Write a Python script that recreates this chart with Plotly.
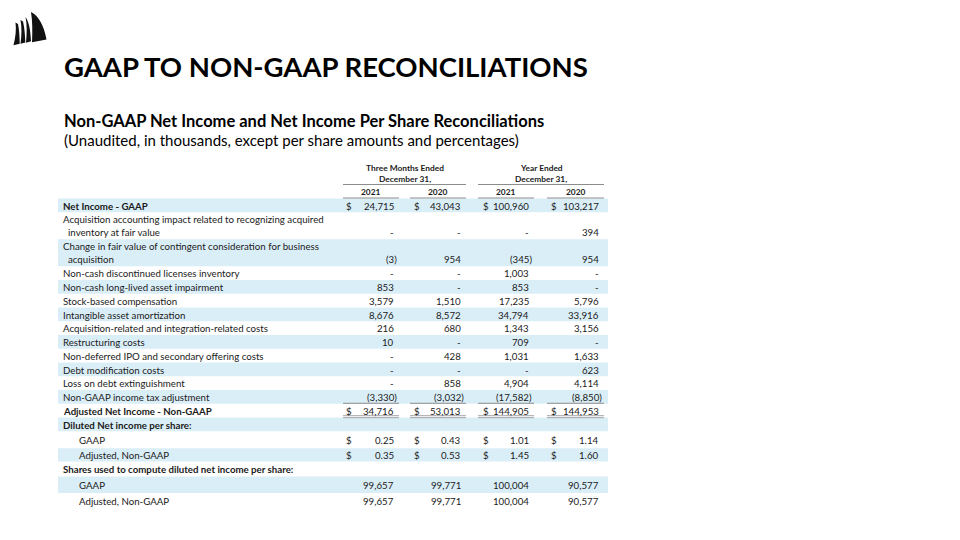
import plotly.graph_objects as go

# ---------------- data ----------------
title = "GAAP TO NON-GAAP RECONCILIATIONS"
subtitle = "Non-GAAP Net Income and Net Income Per Share Reconciliations"
note = "(Unaudited, in thousands, except per share amounts and percentages)"
period_groups = ["Three Months Ended", "Year Ended"]
period_sub = "December 31,"
years = ["2021", "2020", "2021", "2020"]

line_items = [
    "Net Income - GAAP",
    "Acquisition accounting impact related to recognizing acquired|inventory at fair value",
    "Change in fair value of contingent consideration for business|acquisition",
    "Non-cash discontinued licenses inventory",
    "Non-cash long-lived asset impairment",
    "Stock-based compensation",
    "Intangible asset amortization",
    "Acquisition-related and integration-related costs",
    "Restructuring costs",
    "Non-deferred IPO and secondary offering costs",
    "Debt modification costs",
    "Loss on debt extinguishment",
    "Non-GAAP income tax adjustment",
    "Adjusted Net Income - Non-GAAP",
]
q4_2021 = [24715, None, -3, None, 853, 3579, 8676, 216, 10, None, None, None, -3330, 34716]
q4_2020 = [43043, None, 954, None, None, 1510, 8572, 680, None, 428, None, 858, -3032, 53013]
fy_2021 = [100960, None, -345, 1003, 853, 17235, 34794, 1343, 709, 1031, None, 4904, -17582, 144905]
fy_2020 = [103217, 394, 954, None, None, 5796, 33916, 3156, None, 1633, 623, 4114, -8850, 144953]

eps_header = "Diluted Net income per share:"
eps_items = ["GAAP", "Adjusted, Non-GAAP"]
eps_q4_2021 = [0.25, 0.35]
eps_q4_2020 = [0.43, 0.53]
eps_fy_2021 = [1.01, 1.45]
eps_fy_2020 = [1.14, 1.60]

shares_header = "Shares used to compute diluted net income per share:"
shares_items = ["GAAP", "Adjusted, Non-GAAP"]
shares_q4_2021 = [99657, 99657]
shares_q4_2020 = [99771, 99771]
shares_fy_2021 = [100004, 100004]
shares_fy_2020 = [90577, 90577]

# ---------------- styling ----------------
FONT = "Lato"
TXT = "#1a1a1a"
BAND = "#DAEEF8"
LINE = "#8c8c8c"
FS = 9.7

col_left = [343, 410, 478, 547]
col_right = [399, 466, 534, 604]
dollar_x = [344, 412, 481, 549]


def fmt(v, dec=0):
    if v is None:
        return "-"
    s = f"{abs(v):,.{dec}f}"
    return f"({s})" if v < 0 else s


rows = []
for i, lab in enumerate(line_items):
    vals = [fmt(c[i]) for c in (q4_2021, q4_2020, fy_2021, fy_2020)]
    rows.append(dict(label=lab, vals=vals, bold=i in (0, len(line_items) - 1),
                     dollar=i in (0, len(line_items) - 1), indent=0,
                     h=27 if "|" in lab else 13.75))
rows.append(dict(label=eps_header, vals=None, bold=True, dollar=False, indent=0, h=13.7))
for i, lab in enumerate(eps_items):
    vals = [fmt(c[i], 2) for c in (eps_q4_2021, eps_q4_2020, eps_fy_2021, eps_fy_2020)]
    rows.append(dict(label=lab, vals=vals, bold=False, dollar=True, indent=16, h=[17, 13.3][i]))
rows.append(dict(label=shares_header, vals=None, bold=True, dollar=False, indent=0, h=15))
for i, lab in enumerate(shares_items):
    vals = [fmt(c[i]) for c in (shares_q4_2021, shares_q4_2020, shares_fy_2021, shares_fy_2020)]
    rows.append(dict(label=lab, vals=vals, bold=False, dollar=False, indent=16, h=[16.5, 15][i]))

fig = go.Figure()
shapes = []
ann = []


def text(x, y, t, size=FS, bold=False, anchor="left", color=TXT, family=FONT):
    if bold:
        t = f"<b>{t}</b>"
    ann.append(dict(x=x, y=y, xref="x", yref="y", text=t, showarrow=False,
                    xanchor=anchor, yanchor="middle",
                    font=dict(family=family, size=size, color=color)))


# logo (sails)
sails = [
    "M 31 12 C 39 16, 44 26, 46.5 39.5 L 32 42.2 C 32.5 31, 32.5 21, 31 12 Z",
    "M 25.5 17 C 29 22, 30.5 30, 31 41.3 L 26 42.8 C 27 33, 27 24, 25.5 17 Z",
    "M 20.5 20 L 23 21.5 C 24.5 28, 25 34, 25.3 42.5 L 20.5 43.7 C 21.8 35, 21.8 27, 20.5 20 Z",
    "M 15.5 22.5 L 18 24 C 19.2 30, 19.6 36, 19.7 43.8 L 13.5 45.2 C 15.6 37, 16.4 30, 15.5 22.5 Z",
]
for p in sails:
    shapes.append(dict(type="path", path=p, xref="x", yref="y",
                       fillcolor="#111111", line=dict(width=0)))

# titles
text(62, 66, title, size=27.5, bold=True, color="#000000")
text(62, 121, subtitle, size=16.5, bold=True, color="#000000")
text(62, 140, note, size=15, color="#000000")

# column headers
HS = 8.4
grp_centers = [(col_left[0] + col_right[1]) / 2, (col_left[2] + col_right[3]) / 2]
for g, cx in zip(period_groups, grp_centers):
    text(cx, 167.5, g, size=HS, bold=True, anchor="center")
    text(cx, 179, period_sub, size=HS, bold=True, anchor="center")
for k in range(2):
    shapes.append(dict(type="line", xref="x", yref="y", x0=col_left[2 * k], x1=col_right[2 * k + 1],
                       y0=184.5, y1=184.5, line=dict(color=LINE, width=1)))
for j, yr in enumerate(years):
    text((col_left[j] + col_right[j]) / 2, 192, yr, size=HS, bold=True, anchor="center")
    shapes.append(dict(type="line", xref="x", yref="y", x0=col_left[j], x1=col_right[j],
                       y0=198, y1=198, line=dict(color=LINE, width=1)))

# body
y = 198.5
for r_i, r in enumerate(rows):
    top, bot = y, y + r["h"]
    if r_i % 2 == 0:
        shapes.append(dict(type="rect", xref="x", yref="y", x0=58, x1=608, y0=top, y1=bot,
                           fillcolor=BAND, line=dict(width=0), layer="below"))
    parts = r["label"].split("|")
    if len(parts) == 2:
        ys = [bot - 20, bot - 6.8]
    else:
        ys = [(top + bot) / 2 + 0.3]
    for k, (pt, yy) in enumerate(zip(parts, ys)):
        text(61 + r["indent"] + (5 if k == 1 else 0), yy, pt, bold=r["bold"])
    if r["vals"]:
        vy = ys[-1]
        for j, v in enumerate(r["vals"]):
            xr = col_right[j] if v.endswith(")") else col_right[j] - 3.3
            text(xr, vy, v, anchor="right")
            if r["dollar"]:
                text(dollar_x[j], vy, "$")
    if r["label"] == "Non-GAAP income tax adjustment":
        for j in range(4):
            shapes.append(dict(type="line", xref="x", yref="y", x0=col_left[j], x1=col_right[j],
                               y0=bot - 0.5, y1=bot - 0.5, line=dict(color=LINE, width=1)))
    if r["label"] == "Adjusted Net Income - Non-GAAP":
        for j in range(4):
            for dy in (-1.8, 0.2):
                shapes.append(dict(type="line", xref="x", yref="y", x0=col_left[j], x1=col_right[j],
                                   y0=bot + dy, y1=bot + dy, line=dict(color=LINE, width=0.8)))
    y = bot

fig.update_layout(
    width=960, height=540, margin=dict(l=0, r=0, t=0, b=0),
    paper_bgcolor="white", plot_bgcolor="white",
    xaxis=dict(range=[0, 960], visible=False, fixedrange=True),
    yaxis=dict(range=[540, 0], visible=False, fixedrange=True),
    shapes=shapes, annotations=ann, showlegend=False,
)
fig.write_html("out.html", config={"displayModeBar": False},
               post_script="document.body.style.margin='0';")
